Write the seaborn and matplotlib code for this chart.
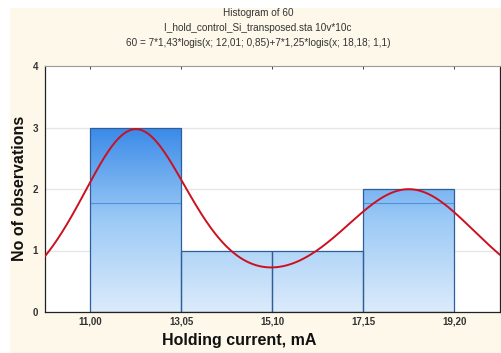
import numpy as np
import pandas as pd
import matplotlib
matplotlib.use("Agg")
import matplotlib.pyplot as plt
import seaborn as sns
from matplotlib.patches import Rectangle
from matplotlib.colors import LinearSegmentedColormap

# ---- data ----
bin_edges = [11.00, 13.05, 15.10, 17.15, 19.20]
counts = [3, 1, 1, 2]
tick_labels = ["11,00", "13,05", "15,10", "17,15", "19,20"]
y_ticks = [0, 1, 2, 3, 4]
# fitted model printed in the chart title: n*k*logis(x; mu; s)
fit_n = [7, 7]
fit_k = [1.43, 1.25]
fit_mu = [12.01, 18.18]
fit_s = [0.85, 1.1]
title_lines = [
    "Histogram of 60",
    "I_hold_control_Si_transposed.sta 10v*10c",
    "60 = 7*1,43*logis(x; 12,01; 0,85)+7*1,25*logis(x; 18,18; 1,1)",
]

W, H, DPI = 502, 353, 100
sns.set_theme(style="white")
plt.rcParams["font.family"] = ["Liberation Sans", "DejaVu Sans"]

fig = plt.figure(figsize=(W / DPI, H / DPI), dpi=DPI, facecolor="white")
# cream page background
fig.patches.append(Rectangle((10 / W, 0), 1, (H - 8) / H, transform=fig.transFigure,
                             facecolor="#fdf8ea", edgecolor="none", zorder=-10))

ax = fig.add_axes([45 / W, (H - 312) / H, (500 - 45) / W, (312 - 66) / H])
ax.set_facecolor("white")

centers = [(a + b) / 2 for a, b in zip(bin_edges[:-1], bin_edges[1:])]
df = pd.DataFrame({"x": centers, "n": counts})
sns.histplot(data=df, x="x", weights="n", bins=bin_edges, ax=ax,
             stat="count", color="#4a95ea", alpha=1.0,
             edgecolor="#2f5f9a", linewidth=0.9, zorder=2)

xlo, xhi = 9.975, 20.225
ax.set_xlim(xlo, xhi)
ax.set_ylim(0, 4)

# vertical gradient fill in the bars
cmap = LinearSegmentedColormap.from_list("g", ["#dcebfb", "#9ccaf6", "#3a8ae8"])
grad = np.linspace(0, 1, 256).reshape(-1, 1)
for p in list(ax.patches):
    p.set_facecolor("none")
    im = ax.imshow(grad, extent=(xlo, xhi, 0, 3), origin="lower", aspect="auto",
                   cmap=cmap, zorder=1.5, interpolation="bicubic")
    im.set_clip_path(p)
    ln, = ax.plot([xlo, xhi], [1.78, 1.78], color="#4f93df", lw=0.8, zorder=1.7)
    ln.set_clip_path(p)

# fitted curve
xs = np.linspace(xlo, xhi, 600)
ys = np.zeros_like(xs)
for n, k, mu, s in zip(fit_n, fit_k, fit_mu, fit_s):
    z = np.exp(-(xs - mu) / s)
    ys += n * k * z / (s * (1 + z) ** 2)
sns.lineplot(x=xs, y=ys, ax=ax, color="#cc1020", lw=1.4, zorder=4)
ax.set_xlim(xlo, xhi)

# grid
ax.set_yticks(y_ticks)
ax.set_yticklabels([str(v) for v in y_ticks])
for v in y_ticks[1:-1]:
    ax.axhline(v, color="#e6e6e6", lw=1.0, zorder=0.5)
ax.grid(False)

ax.set_xticks(bin_edges)
ax.set_xticklabels(tick_labels)
ax.tick_params(axis="both", labelsize=7, colors="#222222", length=2, width=0.6,
               pad=3)
ax.tick_params(axis="x", top=True, direction="in", length=2)
for lab in ax.get_xticklabels() + ax.get_yticklabels():
    lab.set_fontweight("bold")
    lab.set_color("#333333")

for side in ["left", "bottom", "right"]:
    ax.spines[side].set_color("#222222")
    ax.spines[side].set_linewidth(0.9)
ax.spines["top"].set_color("#9a9a9a")
ax.spines["top"].set_linewidth(0.8)

xl = ax.set_xlabel("Holding current, mA", fontsize=11.5, fontweight="bold", color="#111111")
yl = ax.set_ylabel("No of observations", fontsize=11.5, fontweight="bold", color="#111111")
xl.set_verticalalignment("center")
yl.set_verticalalignment("center")
ax.xaxis.set_label_coords((239 - 45) / (500 - 45), -(341 - 312) / (312 - 66))
ax.yaxis.set_label_coords(-(45 - 19) / (500 - 45), (312 - 188) / (312 - 66))

for i, t in enumerate(title_lines):
    fig.text(258 / W, 1 - (13 + 15 * i) / H, t, ha="center", va="center",
             fontsize=7.2, color="#333333")

fig.savefig("out.png", dpi=DPI, facecolor=fig.get_facecolor())
